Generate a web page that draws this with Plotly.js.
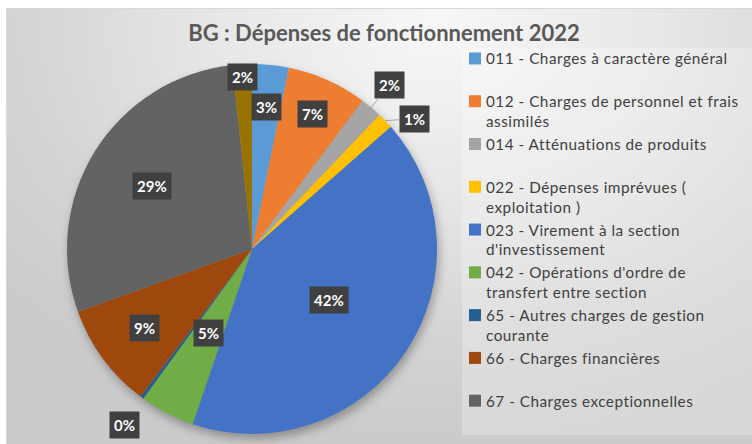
<!DOCTYPE html>
<html>
<head>
<meta charset="utf-8">
<script src="https://cdn.plot.ly/plotly-3.0.1.min.js"></script>
<style>
  html, body { margin: 0; padding: 0; background: #ffffff; }
  #wrap { position: relative; width: 752px; height: 444px; overflow: hidden; background: #ffffff; }
  #bg { position: absolute; left: 6px; top: 8px; width: 746px; height: 436px;
        background: radial-gradient(ellipse 75% 95% at 58% 4%, #f7f7f7 0%, #e7e7e7 40%, #d4d4d4 75%, #cbcbcb 100%);
        border-top: 1px solid #d8d8d8; border-left: 1px solid #d8d8d8; box-sizing: border-box; }
  #chart { position: absolute; left: 0; top: 0; width: 752px; height: 444px; }
  .legend .scrollbar { display: none; }
  .legend .scrollbox { clip-path: none !important; }
  .legend .legendtext { letter-spacing: 0.5px; }
  .legend .legendpoints { transform: translate(9px, 0px); }
  .pielayer .trace { filter: drop-shadow(2px 5px 5px rgba(0,0,0,0.30)); }
</style>
</head>
<body>
<div id="wrap">
  <div id="bg"></div>
  <div id="chart"></div>
</div>
<script>
// ---- data ----
const categories = [
  "011 - Charges à caractère général",
  "012 - Charges de personnel et frais assimilés",
  "014 - Atténuations de produits",
  "022 - Dépenses imprévues ( exploitation )",
  "023 - Virement à la section d'investissement",
  "042 - Opérations d'ordre de transfert entre section",
  "65 - Autres charges de gestion courante",
  "66 - Charges financières",
  "67 - Charges exceptionnelles",
  "68 - Dotations"
];
const legendLabels = [
  "011 - Charges à caractère général",
  "012 - Charges de personnel et frais<br>assimilés",
  "014 - Atténuations de produits",
  "022 - Dépenses imprévues (<br>exploitation )",
  "023 - Virement à la section<br>d'investissement",
  "042 - Opérations d'ordre de<br>transfert entre section",
  "65 - Autres charges de gestion<br>courante",
  "66 - Charges financières",
  "67 - Charges exceptionnelles",
  "68 - Dotations"
];
const shares = [3.2, 7.0, 1.9, 1.4, 41.7, 4.8, 0.3, 9.2, 28.8, 1.7];
const chartTitle = "BG : Dépenses de fonctionnement 2022";

// ---- styles ----
const colors = ["#5B9BD5", "#ED7D31", "#A5A5A5", "#FFC000", "#4472C4",
                "#70AD47", "#255E91", "#9E480E", "#636363", "#997300"];
const W = 752, H = 444;
const pieCx = 252, pieCy = 249, pieR = 185;
// label placement per slice: radius fraction for inside labels, or pixel offsets for outside ones
const labelStyle = [
  {r: 0.77}, {r: 0.80}, {edge: true, ax: 18, ay: -23, arrow: true},
  {edge: true, ax: 29, ay: -2, arrow: true}, {r: 0.50}, {r: 0.51},
  {edge: true, ax: -17, ay: 27, arrow: false}, {r: 0.72}, {r: 0.64}, {r: 0.93}
];

const total = shares.reduce((a, b) => a + b, 0);
const px2x = p => p / W;
const py2y = p => 1 - p / H;

// label annotations, positioned from the cumulative shares
const annotations = [];
let cum = 0;
shares.forEach((v, i) => {
  const mid = (cum + v / 2) / total * 2 * Math.PI;
  cum += v;
  const st = labelStyle[i];
  const rr = st.edge ? 1.0 : st.r;
  const px = pieCx + rr * pieR * Math.sin(mid);
  const py = pieCy - rr * pieR * Math.cos(mid);
  const txt = Math.round(v / total * 100) + "%";
  const a = {
    xref: "paper", yref: "paper", x: px2x(px), y: py2y(py),
    xanchor: "center", yanchor: "middle",
    text: txt, font: {family: "Lato", size: 15, color: "#ffffff", weight: "bold"},
    bgcolor: "#404040", borderpad: 4, showarrow: false
  };
  if (st.edge) {
    a.showarrow = st.arrow;
    a.ax = st.ax; a.ay = st.ay;
    a.arrowhead = 0; a.arrowwidth = 1; a.arrowcolor = "#a6a6a6"; a.standoff = 0;
    if (!st.arrow) {
      a.x = px2x(px + st.ax); a.y = py2y(py + st.ay);
    }
  }
  annotations.push(a);
});

const trace = {
  type: "pie",
  labels: legendLabels.map(l => l.indexOf("<br>") >= 0 ? l : l + "<br>\u00a0"),
  values: shares,
  sort: false,
  direction: "clockwise",
  rotation: 0,
  textinfo: "none",
  hovertext: categories,
  hoverinfo: "text+percent",
  marker: {colors: colors, line: {width: 0}},
  domain: {
    x: [px2x(pieCx - pieR), px2x(pieCx + pieR)],
    y: [py2y(pieCy + pieR), py2y(pieCy - pieR)]
  },
  showlegend: true
};

const layout = {
  width: W, height: H,
  margin: {l: 0, r: 0, t: 0, b: 0, autoexpand: false},
  paper_bgcolor: "rgba(0,0,0,0)",
  plot_bgcolor: "rgba(0,0,0,0)",
  font: {family: "Lato", color: "#404040"},
  title: {
    text: chartTitle,
    font: {family: "Lato", size: 22, color: "#595959", weight: "bold"},
    x: 384 / W, xanchor: "center", y: py2y(33), yanchor: "middle"
  },
  legend: {
    x: px2x(446), xanchor: "left",
    y: py2y(42), yanchor: "top",
    font: {family: "Lato", size: 15.3, color: "#404040"},
    valign: "top",
    bgcolor: "rgba(0,0,0,0)",
    itemclick: false, itemdoubleclick: false,
    traceorder: "normal"
  },
  shapes: [{
    type: "rect", xref: "paper", yref: "paper", layer: "below",
    x0: px2x(462), x1: 1, y0: py2y(435), y1: py2y(48),
    fillcolor: "rgba(255,255,255,0.25)", line: {width: 0}
  }],
  annotations: annotations
};

Plotly.newPlot("chart", [trace], layout, {displayModeBar: false}).then(gd => {
  const items = gd.querySelectorAll(".legend .traces");
  for (let k = 9; k < items.length; k++) items[k].style.display = "none";
});
</script>
</body>
</html>
